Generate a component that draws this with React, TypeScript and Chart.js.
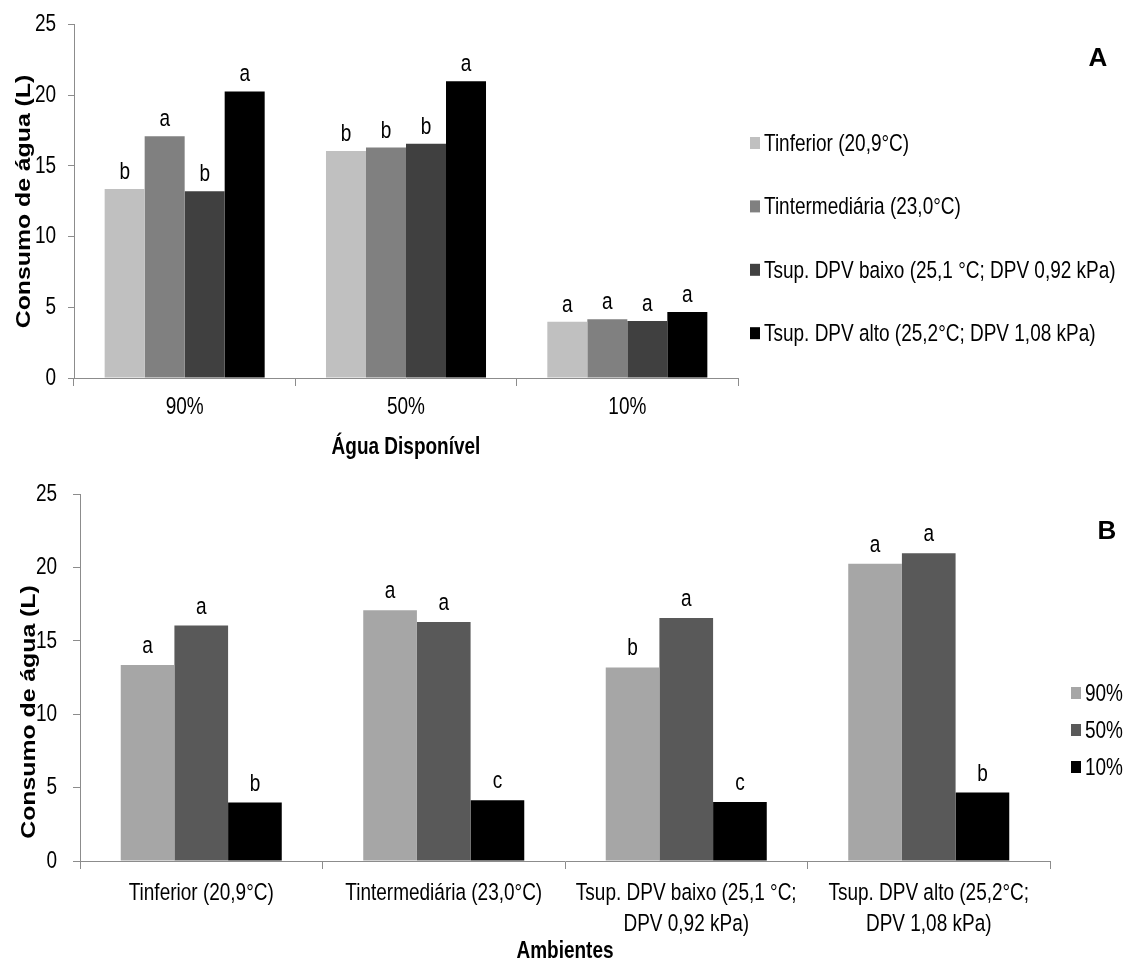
import React, { useEffect, useRef } from 'react';
import { Chart, registerables } from 'chart.js';

Chart.register(...registerables);

const SANS = "'Liberation Sans', Arial, sans-serif";
const AXIS = '#8c8c8c';
const FONT_SIZE = 24.5;
// Horizontal squeeze that gives Liberation Sans the look of a narrow face
const NARROW_SCALE = 0.775;

// Available-water levels: x categories of panel A, series of panel B
const waterLevels = ['90%', '50%', '10%'];

// Temperature environments: series of panel A, x categories of panel B
const environments = [
  'Tinferior (20,9°C)',
  'Tintermediária (23,0°C)',
  'Tsup. DPV baixo (25,1 °C; DPV 0,92 kPa)',
  'Tsup. DPV alto (25,2°C; DPV 1,08 kPa)',
];
const environmentTickLabels = [
  ['Tinferior (20,9°C)'],
  ['Tintermediária (23,0°C)'],
  ['Tsup. DPV baixo (25,1 °C;', 'DPV 0,92 kPa)'],
  ['Tsup. DPV alto (25,2°C;', 'DPV 1,08 kPa)'],
];

// Water consumption (L) of each environment at 90%, 50% and 10% available water
const tInferior = [13.37, 16.05, 3.98];
const tIntermediaria = [17.1, 16.3, 4.15];
const tSupBaixo = [13.2, 16.57, 4.03];
const tSupAlto = [20.27, 20.98, 4.67];

// Mean-comparison letters
const lettersA = [
  ['b', 'b', 'a'],
  ['a', 'b', 'a'],
  ['b', 'b', 'a'],
  ['a', 'a', 'a'],
];
const lettersB = [
  ['a', 'a', 'b', 'a'],
  ['a', 'a', 'a', 'a'],
  ['b', 'c', 'c', 'b'],
];

const colorsA = ['#c0c0c0', '#808080', '#404040', '#000000'];
const colorsB = ['#a6a6a6', '#595959', '#000000'];

const yAxisTitle = 'Consumo de água (L)';

function narrowText(ctx: CanvasRenderingContext2D, text: string, x: number, y: number) {
  ctx.save();
  ctx.translate(x, y);
  ctx.scale(NARROW_SCALE, 1);
  ctx.fillText(text, 0, 0);
  ctx.restore();
}

// Tick labels, axis titles, letters over bars, side legend and panel tag
const decorations = {
  id: 'decorations',
  afterDraw(chart: any, _args: any, opts: any) {
    const ctx = chart.ctx as CanvasRenderingContext2D;
    const xs = chart.scales.x;
    const ys = chart.scales.y;
    const regular = `${FONT_SIZE}px ${SANS}`;
    ctx.save();
    ctx.fillStyle = '#000';

    // y tick labels
    ctx.font = regular;
    ctx.textAlign = 'right';
    ctx.textBaseline = 'middle';
    ys.ticks.forEach((t: any) => {
      narrowText(ctx, String(t.label), ys.right - opts.yTickGap, ys.getPixelForValue(t.value));
    });

    // x tick labels (possibly several lines)
    ctx.textAlign = 'center';
    xs.ticks.forEach((_t: any, i: number) => {
      const lab = chart.data.labels[i];
      const lines = Array.isArray(lab) ? lab : [lab];
      const px = xs.getPixelForTick(i);
      lines.forEach((ln: string, k: number) => {
        narrowText(ctx, ln, px, xs.top + opts.xTickOffset + k * opts.xLineStep);
      });
    });

    // x axis title
    ctx.font = `bold ${FONT_SIZE}px ${SANS}`;
    narrowText(ctx, opts.xTitle, (xs.left + xs.right) / 2, xs.top + opts.xTitleOffset);

    // letters over bars
    ctx.font = regular;
    ctx.textBaseline = 'alphabetic';
    chart.data.datasets.forEach((_ds: any, i: number) => {
      const meta = chart.getDatasetMeta(i);
      meta.data.forEach((bar: any, j: number) => {
        narrowText(ctx, opts.letters[i][j], bar.x, bar.y - opts.letterGap);
      });
    });

    // legend
    const lg = opts.legend;
    chart.data.datasets.forEach((ds: any, i: number) => {
      const y = lg.top + i * lg.step;
      ctx.fillStyle = ds.backgroundColor;
      ctx.fillRect(lg.x, y - 6, 10, 12);
      ctx.fillStyle = '#000';
      ctx.textAlign = 'left';
      ctx.textBaseline = 'middle';
      ctx.font = regular;
      narrowText(ctx, ds.label, lg.x + 14, y + 1);
    });

    // panel tag
    ctx.font = `bold 26px ${SANS}`;
    ctx.textAlign = 'center';
    ctx.textBaseline = 'middle';
    ctx.fillText(opts.tag.text, opts.tag.x, opts.tag.y);

    // rotated y title
    ctx.translate(opts.yTitle.x, opts.yTitle.y);
    ctx.rotate(-Math.PI / 2);
    ctx.scale(1.24, 1);
    ctx.font = `bold 20px ${SANS}`;
    ctx.fillText(yAxisTitle, 0, 0);
    ctx.restore();
  },
};

function axisX(height: number) {
  return {
    grid: { display: true, drawOnChartArea: false, drawTicks: true, tickLength: 8, color: AXIS, offset: true },
    border: { color: AXIS, width: 1 },
    ticks: { display: false, autoSkip: false, maxRotation: 0 },
    afterFit: (s: any) => {
      s.height = height;
    },
  };
}

function axisY(width: number, tickLen: number) {
  return {
    min: 0,
    max: 25,
    grid: { drawOnChartArea: false, drawTicks: true, tickLength: tickLen, color: AXIS },
    border: { color: AXIS, width: 1 },
    ticks: { stepSize: 5, display: false },
    afterFit: (s: any) => {
      s.width = width;
    },
  };
}

function PanelA() {
  const ref = useRef<HTMLCanvasElement>(null);
  useEffect(() => {
    const series = [tInferior, tIntermediaria, tSupBaixo, tSupAlto];
    const chart = new Chart(ref.current!, {
      type: 'bar',
      data: {
        labels: waterLevels,
        datasets: environments.map((label, i) => ({
          label,
          data: series[i],
          backgroundColor: colorsA[i],
          borderWidth: 0,
          barPercentage: 1,
          categoryPercentage: 0.723,
        })),
      },
      options: {
        responsive: false,
        animation: false,
        layout: { padding: { left: 0, top: 24.5, right: 393, bottom: 0 } },
        plugins: {
          legend: { display: false },
          tooltip: { enabled: false },
          decorations: {
            letters: lettersA,
            letterGap: 10,
            yTickGap: 18,
            xTickOffset: 29,
            xLineStep: 30,
            xTitle: 'Água Disponível',
            xTitleOffset: 69,
            legend: { x: 750, top: 143, step: 63.4 },
            tag: { text: 'A', x: 1098, y: 59 },
            yTitle: { x: 24, y: 201.5 },
          },
        } as any,
        scales: {
          x: axisX(82) as any,
          y: axisY(74, 6) as any,
        },
      },
      plugins: [decorations],
    });
    return () => chart.destroy();
  }, []);
  return (
    <canvas
      ref={ref}
      width={1131}
      height={460}
      style={{ position: 'absolute', left: 0, top: 0, display: 'block' }}
    />
  );
}

function PanelB() {
  const ref = useRef<HTMLCanvasElement>(null);
  useEffect(() => {
    const series = [tInferior, tIntermediaria, tSupBaixo, tSupAlto];
    const chart = new Chart(ref.current!, {
      type: 'bar',
      data: {
        labels: environmentTickLabels as any,
        datasets: waterLevels.map((label, k) => ({
          label,
          data: series.map((s) => s[k]),
          backgroundColor: colorsB[k],
          borderWidth: 0,
          barPercentage: 1,
          categoryPercentage: 0.664,
        })),
      },
      options: {
        responsive: false,
        animation: false,
        layout: { padding: { left: 0, top: 24.3, right: 81, bottom: 0 } },
        plugins: {
          legend: { display: false },
          tooltip: { enabled: false },
          decorations: {
            letters: lettersB,
            letterGap: 12,
            yTickGap: 23,
            xTickOffset: 32,
            xLineStep: 31,
            xTitle: 'Ambientes',
            xTitleOffset: 90,
            legend: { x: 1071, top: 223, step: 37 },
            tag: { text: 'B', x: 1107, y: 62 },
            yTitle: { x: 29.5, y: 242 },
          },
        } as any,
        scales: {
          x: axisX(103) as any,
          y: axisY(80, 7) as any,
        },
      },
      plugins: [decorations],
    });
    return () => chart.destroy();
  }, []);
  return (
    <canvas
      ref={ref}
      width={1131}
      height={494}
      style={{ position: 'absolute', left: 0, top: 470, display: 'block' }}
    />
  );
}

export default function App() {
  return (
    <div style={{ position: 'absolute', left: 0, top: 0, width: 1131, height: 964, background: '#fff' }}>
      <PanelA />
      <PanelB />
    </div>
  );
}
